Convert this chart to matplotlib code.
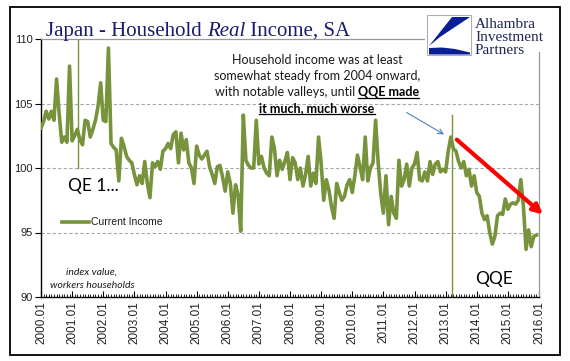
import matplotlib
matplotlib.use('Agg')
import matplotlib.pyplot as plt
import numpy as np
from matplotlib.patches import Rectangle, Polygon
from matplotlib.lines import Line2D

# ---------------- data (monthly index, 2000.01 .. 2015.12) ----------------
y2000 = [103.1, 103.6, 104.4, 103.8, 104.4, 103.7, 106.9, 104.2, 102.0, 102.4, 102.0, 107.9]
y2001 = [102.1, 102.5, 103.0, 102.2, 101.8, 103.7, 103.6, 102.4, 103.0, 103.7, 104.8, 106.6]
y2002 = [103.7, 103.6, 109.3, 101.9, 101.6, 101.4, 99.0, 102.3, 101.7, 100.9, 100.6, 100.4]
y2003 = [99.5, 98.7, 99.4, 98.8, 100.5, 98.8, 97.7, 100.4, 100.1, 100.5, 99.9, 101.3]
y2004 = [101.5, 101.9, 101.5, 102.6, 102.8, 100.4, 102.7, 101.4, 102.2, 100.4, 100.0, 98.8]
y2005 = [101.7, 101.0, 100.7, 101.0, 101.3, 100.1, 99.5, 98.8, 100.1, 100.2, 99.3, 98.2]
y2006 = [99.7, 98.8, 96.5, 98.7, 97.9, 95.1, 104.1, 100.6, 100.2, 100.0, 100.0, 103.7]
y2007 = [100.3, 100.9, 100.0, 99.6, 99.4, 102.4, 101.5, 99.4, 100.6, 99.9, 100.5, 101.2]
y2008 = [99.1, 100.8, 100.4, 99.1, 100.0, 98.6, 99.5, 100.9, 98.6, 99.6, 98.8, 102.4]
y2009 = [100.4, 97.5, 99.1, 98.3, 97.0, 96.1, 98.8, 98.1, 97.5, 97.8, 98.7, 99.1]
y2010 = [98.1, 99.4, 101.0, 100.1, 99.1, 102.4, 99.0, 100.0, 100.4, 103.7, 100.4, 98.0]
y2011 = [96.5, 99.4, 95.6, 97.8, 96.5, 96.1, 100.6, 98.6, 99.1, 100.3, 98.6, 100.0]
y2012 = [100.3, 101.2, 99.1, 99.0, 99.7, 99.0, 100.5, 99.5, 100.3, 100.5, 99.7, 99.9]
y2013 = [99.7, 101.3, 102.4, 101.5, 101.3, 100.5, 100.0, 100.5, 99.4, 99.9, 98.6, 99.4]
y2014 = [98.1, 97.8, 96.5, 96.0, 96.3, 95.0, 94.1, 94.7, 96.3, 96.5, 96.4, 97.6]
y2015 = [96.8, 97.2, 97.3, 97.2, 97.5, 99.1, 97.0, 93.7, 95.2, 93.9, 94.7, 94.8]

income = (y2000 + y2001 + y2002 + y2003 + y2004 + y2005 + y2006 + y2007 +
          y2008 + y2009 + y2010 + y2011 + y2012 + y2013 + y2014 + y2015)

tick_labels = ["2000.01", "2001.01", "2002.01", "2003.01", "2004.01", "2005.01",
               "2006.01", "2007.01", "2008.01", "2009.01", "2010.01", "2011.01",
               "2012.01", "2013.01", "2014.01", "2015.01", "2016.01"]
y_ticks = [90, 95, 100, 105, 110]
series_name = "Current Income"

# ---------------- figure ----------------
W, H = 570, 361
fig = plt.figure(figsize=(W / 100, H / 100), dpi=100)
fig.patch.set_facecolor('white')

def fx(px):
    return px / W

def fy(py):
    return 1 - py / H

GREEN = '#77933C'
NAVY = '#1B1B6F'

ax = fig.add_axes([fx(41), fy(297), fx(539) - fx(41), fy(39) - fy(297)])
months = np.arange(len(income))
ax.set_xlim(0, 192)
ax.set_ylim(90, 110)

for v in [95, 100, 105]:
    ax.axhline(v, color='#A8A8A8', lw=0.8, ls=(0, (3, 2)), zorder=1)

ax.plot(months, income, color=GREEN, lw=2.6, solid_joinstyle='round', zorder=3)

# QE1 / QQE markers
ax.plot([14.3, 14.3], [100, 110], color=GREEN, lw=1.0, zorder=2)
ax.plot([158.4, 158.4], [90, 104.1], color=GREEN, lw=1.0, zorder=2)

for s in ['top', 'right']:
    ax.spines[s].set_color('#9A9A9A')
    ax.spines[s].set_linewidth(0.9)
for s in ['left', 'bottom']:
    ax.spines[s].set_color('black')
    ax.spines[s].set_linewidth(1.0)

ax.set_yticks(y_ticks)
ax.set_yticklabels([str(v) for v in y_ticks], fontsize=8, family='Liberation Sans', color='#222222')
ax.tick_params(axis='y', direction='out', length=4, width=0.8, pad=2)

ax.set_xticks(np.arange(0, 193, 12))
ax.set_xticklabels(tick_labels, rotation=90, fontsize=8.5, family='Liberation Sans', color='#222222')
ax.set_xticks(np.arange(0, 193, 1), minor=True)
ax.tick_params(axis='x', which='major', direction='in', length=4, width=0.8, pad=3)
ax.tick_params(axis='x', which='minor', direction='in', length=2.5, width=0.6)

# red arrow
ax.annotate('', xy=(193.5, 96.4), xytext=(160.3, 102.2), annotation_clip=False,
            arrowprops=dict(arrowstyle='-|>', color='#FF0000', lw=3, mutation_scale=14,
                            shrinkA=0, shrinkB=0), zorder=6)
# blue arrow
ax.annotate('', xy=(155.4, 102.6), xytext=(141.0, 104.3), annotation_clip=False,
            arrowprops=dict(arrowstyle='->', color='#4F81BD', lw=0.8, mutation_scale=9,
                            shrinkA=0, shrinkB=0), zorder=6)

# ---------------- header: title + logo ----------------
fig.add_artist(Rectangle((fx(425), fy(52)), fx(548) - fx(425), fy(11) - fy(52),
                         transform=fig.transFigure, facecolor='white', edgecolor='none', zorder=5))
fig.add_artist(Rectangle((fx(427), fy(55)), fx(471) - fx(427), fy(15) - fy(55),
                         transform=fig.transFigure, facecolor='white', edgecolor='#B0B0B0',
                         lw=0.8, zorder=6))
BLUE = '#0A1F96'
upper = [(452, 17), (470, 17), (440, 37), (429, 46)]
lower = [(429, 48), (442, 47.5), (455, 49), (470, 52.5), (470, 54.5), (429, 54.5)]
for poly in (upper, lower):
    fig.add_artist(Polygon([(fx(a), fy(b)) for a, b in poly], closed=True,
                           transform=fig.transFigure, facecolor=BLUE, edgecolor='none', zorder=7))
for i, word in enumerate(["Alhambra", "Investment", "Partners"]):
    fig.text(fx(475), fy(28 + 13 * i), word, fontsize=11, family='Liberation Serif',
             color='#1F2552', va='baseline', ha='left', zorder=7)

fig.text(fx(46), fy(36), 'Japan - Household ', fontsize=15, family='Liberation Serif',
         color=NAVY, va='baseline', ha='left', zorder=7)

# title pieces (placed after measuring)
t1 = fig.texts[-1]

# ---------------- annotations ----------------
ANN_FONT = 'Lato'
fig.text(fx(317), fy(64), 'Household income was at least', fontsize=9, family=ANN_FONT,
         color='#1A1A1A', ha='center', va='baseline')
fig.text(fx(317), fy(80), 'somewhat steady from 2004 onward,', fontsize=9, family=ANN_FONT,
         color='#1A1A1A', ha='center', va='baseline')
a3 = fig.text(0, fy(96), 'with notable valleys, until ', fontsize=9, family=ANN_FONT,
              color='#1A1A1A', ha='left', va='baseline')
b3 = fig.text(0, fy(96), 'QQE made', fontsize=9, family=ANN_FONT, weight='bold',
              color='black', ha='left', va='baseline')
b4 = fig.text(fx(317), fy(112), 'it much, much worse', fontsize=9, family=ANN_FONT,
              weight='bold', color='black', ha='center', va='baseline')

fig.text(fx(68), fy(191), 'QE 1...', fontsize=12.5, family=ANN_FONT, color='black',
         ha='left', va='baseline')
fig.text(fx(475), fy(284), 'QQE', fontsize=12.5, family=ANN_FONT, color='black',
         ha='left', va='baseline')

fig.text(fx(92), fy(275), 'index value,', fontsize=7.5, family=ANN_FONT, style='italic',
         color='#1A1A1A', ha='center', va='baseline')
fig.text(fx(92), fy(288), 'workers households', fontsize=7.5, family=ANN_FONT, style='italic',
         color='#1A1A1A', ha='center', va='baseline')

# legend
fig.add_artist(Line2D([fx(62), fx(89)], [fy(222), fy(222)], color=GREEN, lw=2.6,
                      transform=fig.transFigure))
fig.text(fx(91), fy(222), series_name, fontsize=7.5, family='Liberation Sans',
         color='#1A1A1A', ha='left', va='center')

# outer frame
fig.add_artist(Rectangle((fx(10), fy(355)), fx(560) - fx(10), fy(7) - fy(355),
                         transform=fig.transFigure, facecolor='none', edgecolor='black',
                         lw=1.3, zorder=8))

# ---------------- layout of mixed-style text ----------------
fig.canvas.draw()
r = fig.canvas.get_renderer()

# title
e1 = t1.get_window_extent(r)
t2 = fig.text(0, fy(36), 'Real', fontsize=15, family='Liberation Serif', style='italic',
              color=NAVY, va='baseline', ha='left', zorder=7)
t2.set_x(e1.x1 / W)
fig.canvas.draw()
e2 = t2.get_window_extent(r)
fig.text(e2.x1 / W, fy(36), ' Income, SA', fontsize=15, family='Liberation Serif',
         color=NAVY, va='baseline', ha='left', zorder=7)

# line 3 centering
wa = a3.get_window_extent(r).width
wb = b3.get_window_extent(r).width
start = 317 - (wa + wb) / 2
a3.set_x(fx(start))
b3.set_x(fx(start + wa))
fig.canvas.draw()
for t in (b3, b4):
    e = t.get_window_extent(r)
    yline = fy(96 if t is b3 else 112) - 2.2 / H
    fig.add_artist(Line2D([e.x0 / W, e.x1 / W], [yline, yline], color='black', lw=0.9,
                          transform=fig.transFigure))

fig.savefig('out.png', dpi=100, facecolor='white')
